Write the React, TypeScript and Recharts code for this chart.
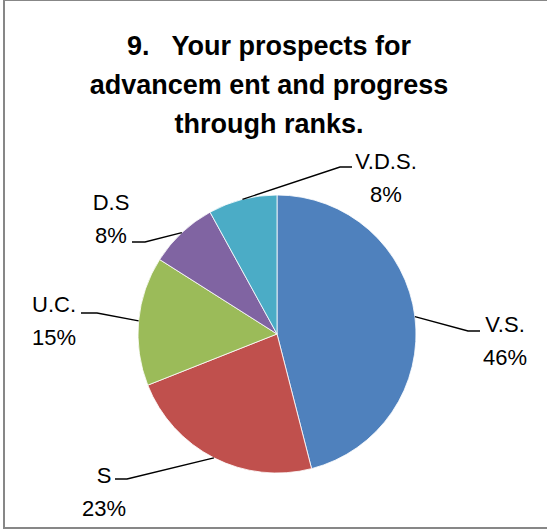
import { PieChart, Pie, Cell } from 'recharts'

const categories = ['V.S.', 'S', 'U.C.', 'D.S', 'V.D.S.']
const shares = [46, 23, 15, 8, 8]
const colors = ['#4F81BD', '#C0504D', '#9BBB59', '#8064A2', '#4BACC6']
const titleLines = ['9.   Your prospects for', 'advancem ent and progress', 'through ranks.']

const data = categories.map((name, i) => ({ name, value: shares[i] }))

// where each label sits, relative to the pie centre (elbow, end of leader, text)
const labelLayout = [
  { ex: 191, ey: -3, lx: 203, tx: 228, ty: -2 },
  { ex: -150, ey: 145, lx: -162, tx: -173, ty: 149 },
  { ex: -180, ey: -21, lx: -196, tx: -223, ty: -22 },
  { ex: -132, ey: -92, lx: -145, tx: -166, ty: -124 },
  { ex: 63, ey: -167, lx: 75, tx: 109, ty: -165 },
]

const RAD = Math.PI / 180
const font = '"Liberation Sans", Arial, sans-serif'

function renderLabel(props: any) {
  const { cx, cy, midAngle, outerRadius, index, name, percent } = props
  const l = labelLayout[index]
  const ax = cx + outerRadius * Math.cos(-midAngle * RAD)
  const ay = cy + outerRadius * Math.sin(-midAngle * RAD)
  const pts = `${ax},${ay} ${cx + l.ex},${cy + l.ey} ${cx + l.lx},${cy + l.ey}`
  return (
    <g key={`lbl-${index}`}>
      <polyline points={pts} fill="none" stroke="#000" strokeWidth={1.4} />
      <text x={cx + l.tx} y={cy + l.ty} textAnchor="middle" fontFamily={font} fontSize={22} fill="#000">
        {name}
      </text>
      <text x={cx + l.tx} y={cy + l.ty + 33} textAnchor="middle" fontFamily={font} fontSize={22} fill="#000">
        {`${Math.round(percent * 100)}%`}
      </text>
    </g>
  )
}

export default function App() {
  return (
    <div style={{ position: 'absolute', left: 0, top: 0, width: 547, height: 529, background: '#fff' }}>
      <div
        style={{
          position: 'absolute',
          left: 3,
          top: 0,
          width: 544,
          height: 529,
          boxSizing: 'border-box',
          borderLeft: '2px solid #878787',
          borderTop: '1px solid #878787',
          borderBottom: '2px solid #878787',
        }}
      />
      <div
        style={{
          position: 'absolute',
          left: 0,
          top: 27,
          width: 538,
          textAlign: 'center',
          fontFamily: font,
          fontWeight: 'bold',
          fontSize: 27,
          lineHeight: '39px',
          color: '#000',
          whiteSpace: 'pre',
        }}
      >
        {titleLines.map((t) => (
          <div key={t}>{t}</div>
        ))}
      </div>
      <div style={{ position: 'absolute', left: 0, top: 0 }}>
        <PieChart width={547} height={529} margin={{ top: 0, right: 0, bottom: 0, left: 0 }}>
          <Pie
            data={data}
            dataKey="value"
            nameKey="name"
            cx={277}
            cy={334}
            outerRadius={139}
            startAngle={90}
            endAngle={-270}
            stroke="#fff"
            strokeWidth={0.8}
            labelLine={false}
            label={renderLabel}
            isAnimationActive={false}
          >
            {data.map((entry, i) => (
              <Cell key={`cell-${entry.name}`} fill={colors[i]} />
            ))}
          </Pie>
        </PieChart>
      </div>
    </div>
  )
}
